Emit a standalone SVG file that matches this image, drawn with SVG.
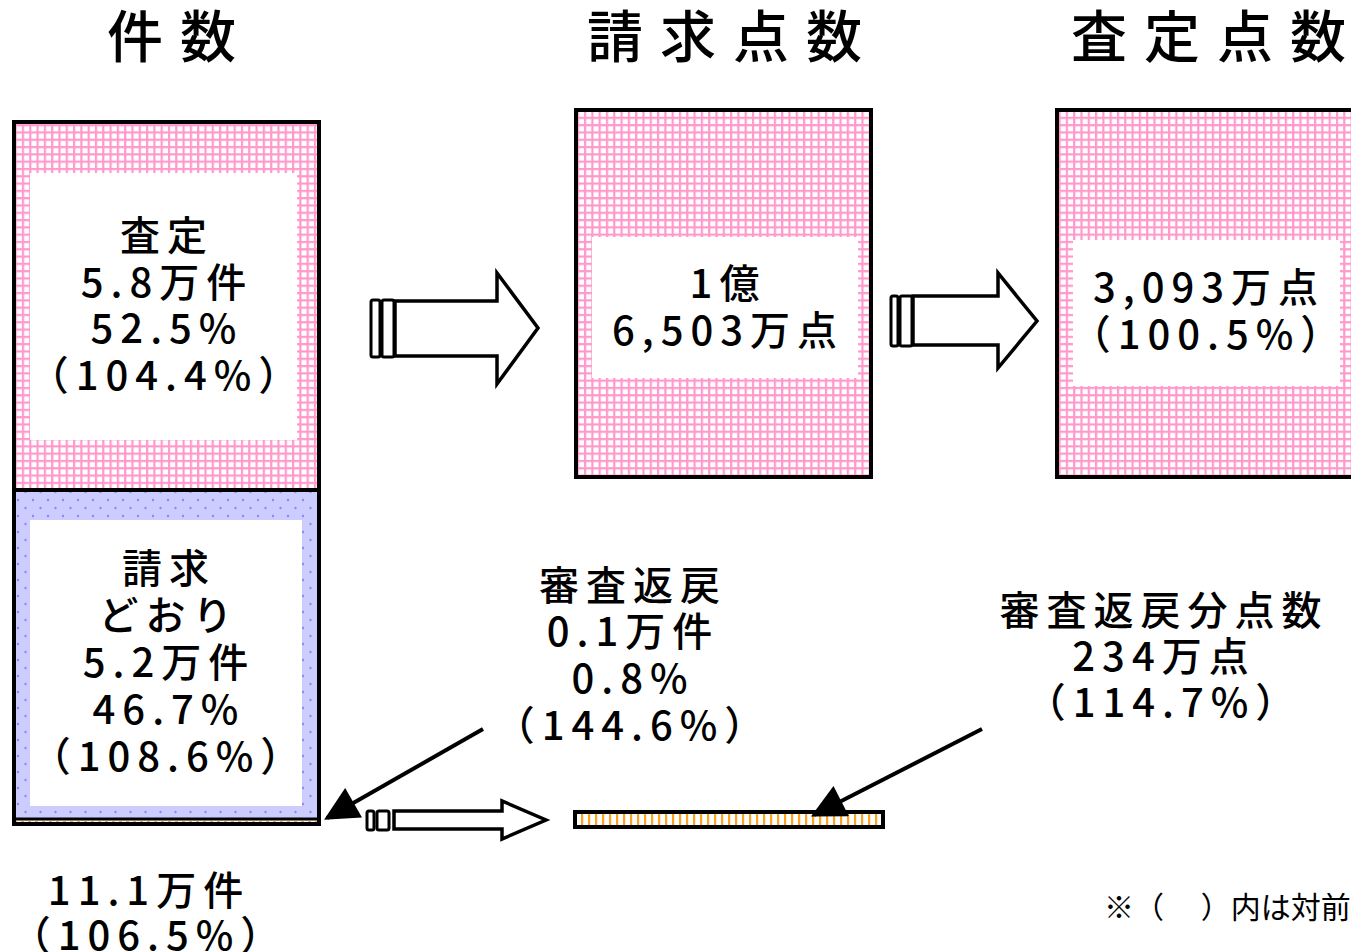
<svg xmlns="http://www.w3.org/2000/svg" width="1351" height="952" viewBox="0 0 1351 952">
<style>
text{font-family:"Noto Sans CJK JP","Noto Sans CJK SC",sans-serif;fill:#000}
.t{font-size:56px;letter-spacing:17px;font-weight:500}
.b{font-size:40px;letter-spacing:7px;text-anchor:middle;font-weight:500}
.n{font-size:30px}
.box{stroke:#000;stroke-width:4}
.arr{fill:#fff;stroke:#000;stroke-width:3.5;stroke-linejoin:miter}
.bar{fill:#fff;stroke:#000;stroke-width:3}
.ptr{stroke:#000;stroke-width:4}
</style>
<defs>
<pattern id="pink" width="7.3" height="7.3" patternUnits="userSpaceOnUse">
<rect width="7.3" height="7.3" fill="#fff"/>
<rect x="0" y="0" width="2.2" height="7.3" fill="#ff99cc"/>
<rect x="0" y="0" width="7.3" height="2.2" fill="#ff99cc"/>
</pattern>
<pattern id="blue" width="15" height="16" patternUnits="userSpaceOnUse">
<rect width="15" height="16" fill="#ccccff"/>
<circle cx="3" cy="4" r="1.2" fill="#8a8aee"/>
<circle cx="10.5" cy="12" r="1.2" fill="#8a8aee"/>
</pattern>
<pattern id="orange" width="7" height="20" patternUnits="userSpaceOnUse">
<rect width="7" height="20" fill="#fff"/>
<rect x="0" y="0" width="2.2" height="20" fill="#ffa020"/>
</pattern>
<marker id="ah" viewBox="0 0 10 10" refX="9" refY="5" markerWidth="10" markerHeight="8.5" markerUnits="strokeWidth" orient="auto">
<path d="M0,0 L10,5 L0,10 z" fill="#000"/>
</marker>
</defs>

<g id="titles">
<text class="t" x="107" y="57">件数</text>
<text class="t" x="587" y="57">請求点数</text>
<text class="t" x="1071" y="57">査定点数</text>
</g>

<g id="node-count">
<rect x="14" y="122" width="305" height="368" fill="url(#pink)"/>
<rect x="30" y="173" width="267" height="267" fill="#fff"/>
<rect x="14" y="490" width="305" height="328" fill="url(#blue)"/>
<rect x="30" y="520" width="272" height="286" fill="#fff"/>
<line x1="14" y1="822" x2="319" y2="822" stroke="#ff9900" stroke-width="1.5" stroke-dasharray="3,4"/>
<rect class="box" x="14" y="122" width="305" height="702" fill="none"/>
<line class="box" x1="14" y1="490" x2="319" y2="490"/>
<line x1="14" y1="819" x2="319" y2="819" stroke="#000" stroke-width="3"/>
<text class="b" x="167" y="250">査定</text>
<text class="b" x="167" y="297">5.8万件</text>
<text class="b" x="167" y="343">52.5%</text>
<text class="b" x="167" y="390">（104.4%）</text>
<text class="b" x="169" y="583">請求</text>
<text class="b" x="169" y="630">どおり</text>
<text class="b" x="169" y="677">5.2万件</text>
<text class="b" x="169" y="724">46.7%</text>
<text class="b" x="169" y="771">（108.6%）</text>
</g>

<g id="node-total">
<text class="b" x="149" y="905">11.1万件</text>
<text class="b" x="149" y="950">（106.5%）</text>
</g>

<g id="node-claim">
<rect class="box" x="576" y="110" width="295" height="367" fill="url(#pink)"/>
<rect x="592" y="237" width="266" height="141" fill="#fff"/>
<text class="b" x="728" y="298">1億</text>
<text class="b" x="728" y="345">6,503万点</text>
</g>

<g id="node-assessed">
<rect class="box" x="1057" y="110" width="310" height="367" fill="url(#pink)"/>
<rect x="1073" y="240" width="267" height="146" fill="#fff"/>
<text class="b" x="1209" y="302">3,093万点</text>
<text class="b" x="1209" y="349">（100.5%）</text>
</g>

<g id="node-return">
<text class="b" x="633" y="600">審査返戻</text>
<text class="b" x="633" y="646">0.1万件</text>
<text class="b" x="633" y="693">0.8%</text>
<text class="b" x="633" y="740">（144.6%）</text>
</g>

<g id="node-return-points">
<text class="b" x="1164" y="625">審査返戻分点数</text>
<text class="b" x="1164" y="671">234万点</text>
<text class="b" x="1164" y="717">（114.7%）</text>
<rect x="575" y="812" width="308" height="15" fill="url(#orange)" stroke="#000" stroke-width="4"/>
</g>

<g id="note">
<text class="n" x="1104" y="918">※（　 ）内は対前年同月比</text>
</g>

<g id="connectors">
<rect class="bar" x="371" y="300" width="9" height="57" rx="2"/>
<rect class="bar" x="382" y="300" width="12" height="57" rx="2"/>
<polygon class="arr" points="395,301 497,301 497,273 538,328 497,384 497,356 395,356"/>
<rect class="bar" x="891" y="296" width="7" height="50" rx="2"/>
<rect class="bar" x="900" y="296" width="12" height="50" rx="2"/>
<polygon class="arr" points="913,296 998,296 998,273 1037,321 998,368 998,345 913,345"/>
<rect class="bar" x="367" y="811" width="7" height="19" rx="2"/>
<rect class="bar" x="377" y="811" width="12" height="19" rx="2"/>
<polygon class="arr" points="394,811 502,811 502,801 546,820 502,839 502,829 394,829"/>
<line class="ptr" x1="483" y1="729" x2="327" y2="818" marker-end="url(#ah)"/>
<line class="ptr" x1="982" y1="729" x2="814" y2="815" marker-end="url(#ah)"/>
</g>
</svg>
